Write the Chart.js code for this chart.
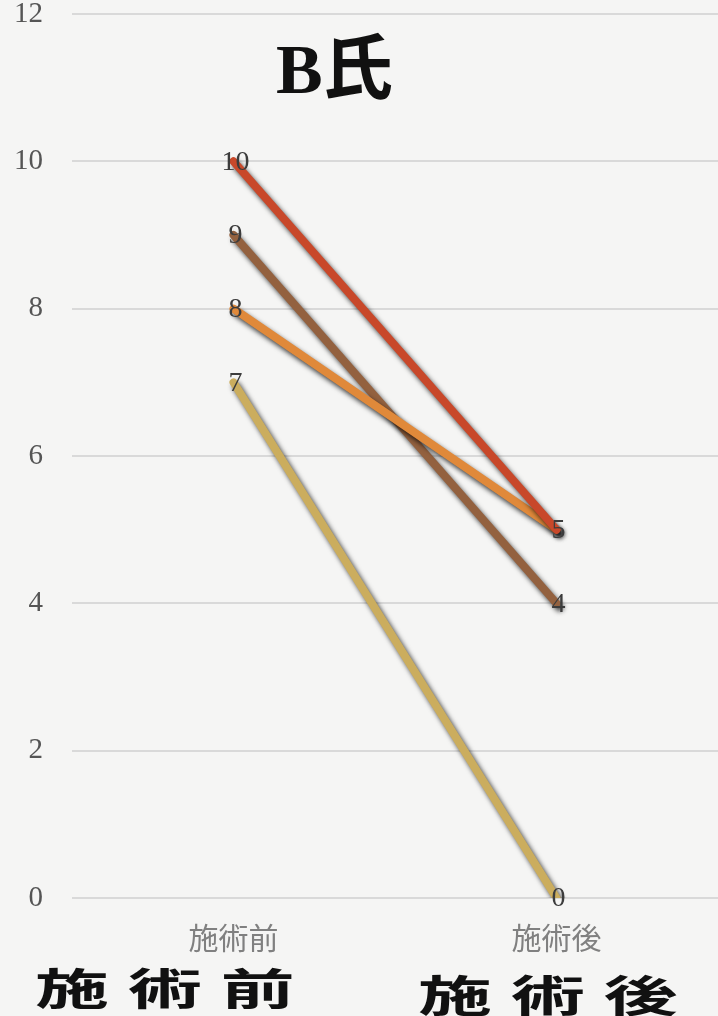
<!DOCTYPE html>
<html>
<head>
<meta charset="utf-8">
<script src="https://cdn.jsdelivr.net/npm/chart.js@4"></script>
<style>
  html, body { margin: 0; padding: 0; background: #f5f5f4; }
  #wrap { position: relative; width: 718px; height: 1016px; overflow: hidden; }
  #myChart { position: absolute; left: 0; top: 0; }
  .title { position: absolute; left: 276px; top: 12px; line-height: 1; font: bold 70px "Liberation Serif", "Noto Sans CJK JP", serif; color: #111; }
  .big { position: absolute; line-height: 1; font: bold 43px "Noto Sans CJK JP", sans-serif; color: #111; letter-spacing: 11px; white-space: nowrap; transform-origin: 0 0; transform: scaleX(1.72); }
</style>
</head>
<body>
<div id="wrap">
  <canvas id="myChart" width="718" height="1016"></canvas>
  <div class="title">B氏</div>
  <div class="big" style="left:35px; top:955px;">施術前</div>
  <div class="big" style="left:418px; top:962px;">施術後</div>
</div>
<script>
var labels = ["施術前", "施術後"]
var series1 = [10, 5]
var series2 = [8, 5]
var series3 = [9, 4]
var series4 = [7, 0]
var yTicks = [0, 2, 4, 6, 8, 10, 12]

var shadowPlugin = {
    id: 'shadow',
    beforeDatasetsDraw: function(chart){
        var ctx = chart.ctx
        ctx.save()
        ctx.shadowColor = 'rgba(0,0,0,0.75)'
        ctx.shadowBlur = 5
        ctx.shadowOffsetX = 3
        ctx.shadowOffsetY = 4
    },
    afterDatasetsDraw: function(chart){
        chart.ctx.restore()
    }
}

var labelPlugin = {
    id: 'pointLabels',
    afterDraw: function(chart){
        var ctx = chart.ctx
        var seen = {}
        ctx.save()
        ctx.font = '28px "Liberation Serif", serif'
        ctx.fillStyle = '#3c3c3c'
        ctx.textAlign = 'center'
        ctx.textBaseline = 'middle'
        chart.data.datasets.forEach(function(ds, i){
            chart.getDatasetMeta(i).data.forEach(function(pt, j){
                var key = j + '_' + ds.data[j]
                if (seen[key]) return
                seen[key] = true
                ctx.fillText(ds.data[j], pt.x + 2, pt.y + 1)
            })
        })
        ctx.restore()
    }
}

function noPad(scale){
    scale.paddingLeft = 0
    scale.paddingRight = 0
    scale.paddingTop = 0
    scale.paddingBottom = 0
}

var myChart = document.getElementById("myChart").getContext('2d')
var chart = new Chart(myChart, {
    type: 'line',
    data: {
        labels: labels,
        datasets: [{
            data: series1,
            borderColor: "#c8482a",
        },{
            data: series2,
            borderColor: "#e0893a",
        },{
            data: series3,
            borderColor: "#93613f",
        },{
            data: series4,
            borderColor: "#cbad5e",
        }]
    },
    options: {
        responsive: false,
        animation: false,
        datasets: {
            line: {
                borderWidth: 8,
                pointRadius: 0,
                borderCapStyle: 'round',
                tension: 0
            }
        },
        layout: { padding: { left: 0, right: 0, top: 14, bottom: 58 } },
        plugins: {
            legend: { display: false },
            tooltip: { enabled: false }
        },
        scales: {
            x: {
                offset: true,
                grid: { display: false },
                border: { display: false },
                afterFit: function(scale){
                    noPad(scale)
                    scale.height = 60
                },
                ticks: {
                    color: '#808080',
                    font: { family: '"Noto Sans CJK JP", sans-serif', size: 30 },
                    padding: 14
                }
            },
            y: {
                min: 0,
                max: 12,
                afterBuildTicks: function(axis){
                    axis.ticks = yTicks.map(function(v){ return { value: v } })
                },
                afterFit: function(scale){
                    noPad(scale)
                    scale.width = 72
                },
                grid: { color: '#d9d9d9', lineWidth: 2, drawTicks: false },
                border: { display: false },
                ticks: {
                    color: '#555',
                    font: { family: '"Liberation Serif", serif', size: 29 },
                    padding: 29
                }
            }
        }
    },
    plugins: [shadowPlugin, labelPlugin]
})
</script>
</body>
</html>
